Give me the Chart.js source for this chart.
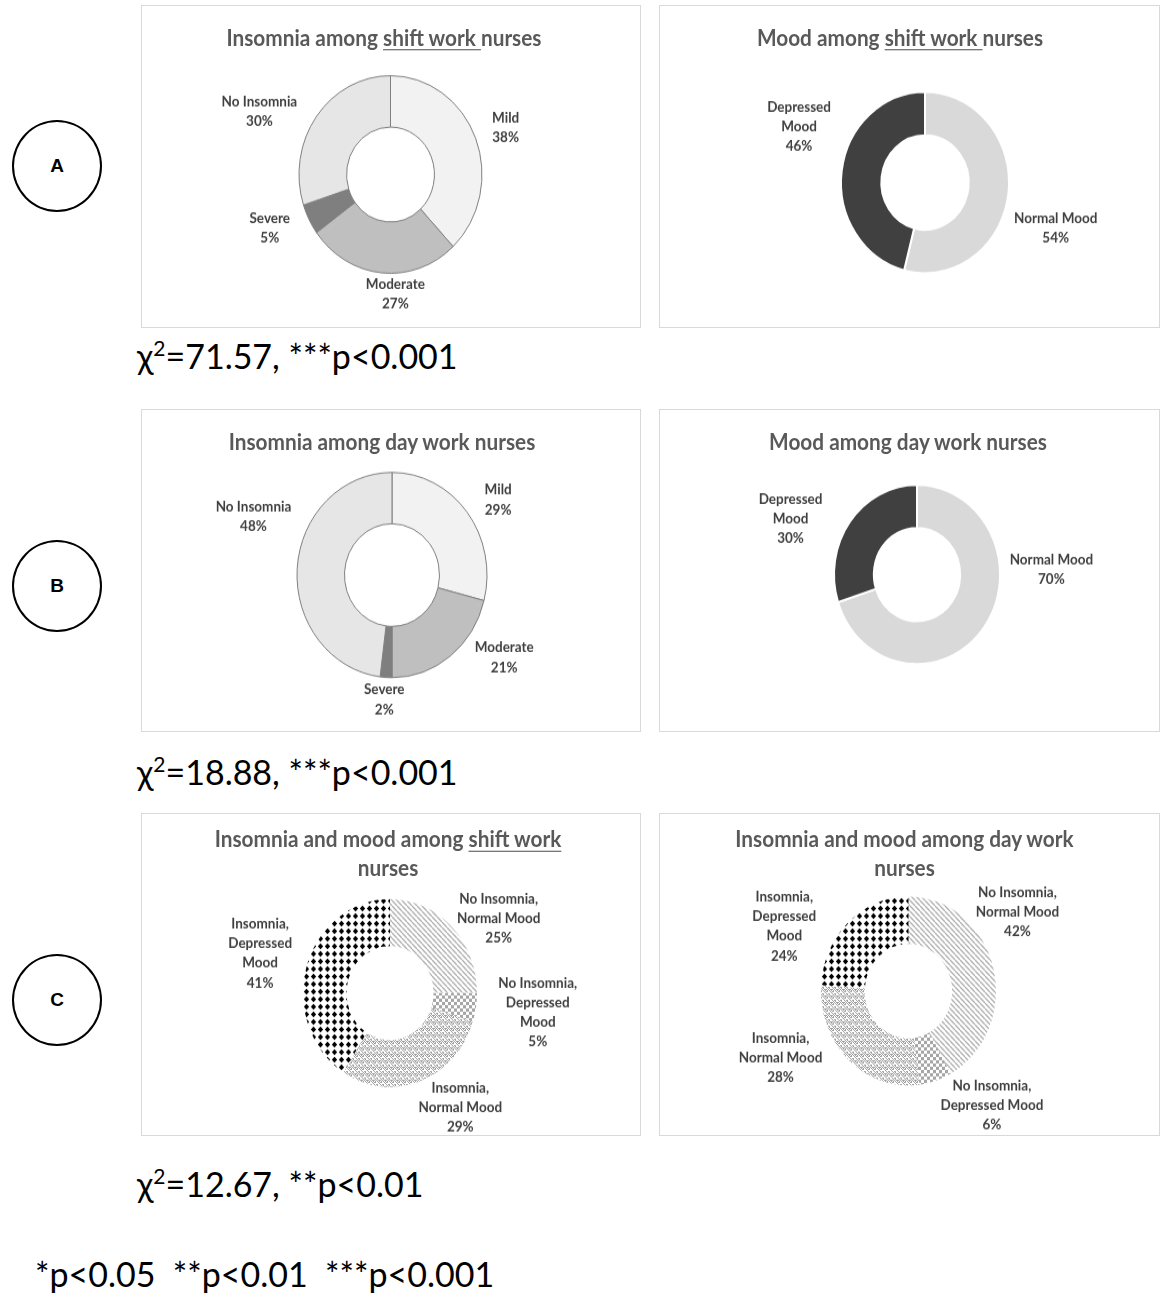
<!DOCTYPE html>
<html lang="en">
<head>
<meta charset="UTF-8">
<title>Insomnia and mood among shift and day work nurses</title>
<script src="https://cdn.jsdelivr.net/npm/chart.js@4.4.1/dist/chart.umd.min.js"></script>
<style>
    html, body { margin: 0; padding: 0; background: #fff; }
    body { width: 1170px; height: 1303px; position: relative; overflow: hidden; font-family: Lato, "Open Sans", sans-serif; }
    .box { position: absolute; border: 1px solid #d9d9d9; box-sizing: border-box; background: #fff; overflow: hidden; }
    .inner { position: absolute; left: 0; top: 0; transform-origin: 0 0; }
    .inner canvas { position: absolute; left: 0; top: 0; }
    .title { position: absolute; left: 0; text-align: center; color: #595959; font-weight: 700; font-size: 20.8px; line-height: 26px; white-space: nowrap; }
    .title u { text-decoration-thickness: 1px; text-underline-offset: 3px; }
    .tag { position: absolute; left: 12px; width: 90px; height: 92px; border: 2px solid #000; border-radius: 50%; box-sizing: border-box;
           font: bold 19px "Liberation Sans", Arial, sans-serif; display: flex; align-items: center; justify-content: center; }
    .stat { position: absolute; font-size: 34px; line-height: 34px; color: #000; white-space: pre; }
    .stat sup { font-size: 21px; vertical-align: 13px; line-height: 0; }
</style>
</head>
<body>
<div id="page"></div>
<script>
// ---- data ----
const insomniaCats = ['Mild', 'Moderate', 'Severe', 'No Insomnia'];
const shiftInsomnia = [38, 27, 5, 30];
const dayInsomnia = [29, 21, 2, 48];

const moodCats = ['Normal Mood', 'Depressed Mood'];
const shiftMood = [54, 46];
const dayMood = [70, 30];

const comboCats = ['No Insomnia, Normal Mood', 'No Insomnia, Depressed Mood', 'Insomnia, Normal Mood', 'Insomnia, Depressed Mood'];
const shiftCombo = [25, 5, 29, 41];
const dayCombo = [42, 6, 28, 24];

const chiValues = ['71.57', '18.88', '12.67'];
const pLabels = ['***p<0.001', '***p<0.001', '**p<0.01'];
const groupTags = ['A', 'B', 'C'];

// how the data labels are broken into lines in each chart
const insomniaLines = [['Mild'], ['Moderate'], ['Severe'], ['No Insomnia']];
const moodLines = [['Normal Mood'], ['Depressed', 'Mood']];
const shiftComboLines = [['No Insomnia,', 'Normal Mood'], ['No Insomnia,', 'Depressed', 'Mood'], ['Insomnia,', 'Normal Mood'], ['Insomnia,', 'Depressed', 'Mood']];
const dayComboLines = [['No Insomnia,', 'Normal Mood'], ['No Insomnia,', 'Depressed Mood'], ['Insomnia,', 'Normal Mood'], ['Insomnia,', 'Depressed', 'Mood']];

// ---- fills ----
function tile(w, h, draw) {
    const c = document.createElement('canvas');
    c.width = w; c.height = h;
    const g = c.getContext('2d');
    g.fillStyle = '#fff';
    g.fillRect(0, 0, w, h);
    draw(g);
    return g.createPattern(c, 'repeat');
}
const dotFill = tile(7, 7, g => {
    g.fillStyle = '#000';
    g.beginPath();
    g.moveTo(3.5, 0.8); g.lineTo(6.2, 3.5); g.lineTo(3.5, 6.2); g.lineTo(0.8, 3.5);
    g.closePath(); g.fill();
});
const hatchFill = tile(5, 5, g => {
    g.strokeStyle = '#b0b0b0';
    g.lineWidth = 1.3;
    for (const k of [-5, 0, 5]) {
        g.beginPath(); g.moveTo(k, 0); g.lineTo(k + 5, 5); g.stroke();
    }
});
const checkFill = tile(6, 6, g => {
    g.fillStyle = '#a6a6a6';
    g.fillRect(0, 0, 3, 3);
    g.fillRect(3, 3, 3, 3);
});
const weaveFill = tile(6, 6, g => {
    g.fillStyle = '#a0a0a0';
    for (let x = 0; x < 6; x++)
        for (let y = 0; y < 6; y++)
            if ((y + Math.abs(x - 3)) % 3 < 1.5 && (x + y) % 2 === 0 || (x * 2 + y) % 6 === 0) g.fillRect(x, y, 1, 1);
});

const insomniaColors = ['#f2f2f2', '#bfbfbf', '#7f7f7f', '#e7e6e6'];
const moodColors = ['#d9d9d9', '#404040'];
const comboFills = [hatchFill, checkFill, weaveFill, dotFill];

// ---- layout (page pixels; drawing is stretched vertically like the source) ----
const STRETCH = 1.08;
const panels = [
    { box: [141, 5, 500, 323], cx: 248.5, cy: 156, r: 91.5, cut: '48%', titleCx: 242, titleTop: 16,
      title: 'Insomnia among <u>shift work </u>nurses', cats: insomniaCats, values: shiftInsomnia, lines: insomniaLines,
      fills: insomniaColors, border: '#7f7f7f', bw: 1,
      nudge: [[10, 0], [17, -7], [-14, -4], [-20, 12]] },
    { box: [659, 5, 501, 323], cx: 265, cy: 163.4, r: 84, cut: '52%', titleCx: 240, titleTop: 16,
      title: 'Mood among <u>shift work </u>nurses', cats: moodCats, values: shiftMood, lines: moodLines,
      fills: moodColors, border: '#fff', bw: 2,
      nudge: [[-2, 31], [-3, -40]] },
    { box: [141, 409, 500, 323], cx: 250, cy: 152.8, r: 95, cut: '50%', titleCx: 240, titleTop: 16,
      title: 'Insomnia among day work nurses', cats: insomniaCats, values: dayInsomnia, lines: insomniaLines,
      fills: insomniaColors, border: '#7f7f7f', bw: 1,
      nudge: [[14, 5], [31, -21], [0, -6], [2, -50]] },
    { box: [659, 409, 501, 323], cx: 257, cy: 152.3, r: 83, cut: '52%', titleCx: 248, titleTop: 16,
      title: 'Mood among day work nurses', cats: moodCats, values: dayMood, lines: moodLines,
      fills: moodColors, border: '#fff', bw: 2,
      nudge: [[27, -74], [-27, 19]] },
    { box: [141, 813, 500, 323], cx: 248, cy: 165.7, r: 87, cut: '50%', titleCx: 246, titleTop: 9.5,
      title: 'Insomnia and mood among <u>shift work</u><br>nurses', cats: comboCats, values: shiftCombo, lines: shiftComboLines,
      fills: comboFills, border: '#fff', bw: 0,
      nudge: [[12, 19], [15, -3], [24, -10], [-8, 0]] },
    { box: [659, 813, 501, 323], cx: 248.5, cy: 163.9, r: 87.5, cut: '50%', titleCx: 244.5, titleTop: 9.5,
      title: 'Insomnia and mood among day work<br>nurses', cats: comboCats, values: dayCombo, lines: dayComboLines,
      fills: comboFills, border: '#fff', bw: 0,
      nudge: [[-24, -46], [38, -12], [-34, -30], [-37, 39]] }
];
const tagTops = [120, 540, 954];
const statRows = [{ left: 137, top: 339 }, { left: 137, top: 755 }, { left: 137, top: 1167 }];

// outside-end labels, pushed out along the slice's middle angle, then nudged (page px)
const sliceLabels = {
    id: 'sliceLabels',
    afterDatasetsDraw(chart, args, opts) {
        const ctx = chart.ctx;
        const meta = chart.getDatasetMeta(0);
        const values = chart.data.datasets[0].data;
        ctx.save();
        ctx.font = '700 13.5px Lato';
        ctx.fillStyle = '#404040';
        ctx.textAlign = 'center';
        ctx.textBaseline = 'middle';
        meta.data.forEach((arc, i) => {
            const p = arc.getProps(['x', 'y', 'startAngle', 'endAngle', 'outerRadius'], true);
            const mid = (p.startAngle + p.endAngle) / 2;
            const lines = opts.lines[i].concat([values[i] + '%']);
            const w = Math.max(...lines.map(l => ctx.measureText(l).width));
            const h = lines.length * opts.lineHeight;
            const nd = opts.nudge[i];
            const bx = p.x + Math.cos(mid) * (p.outerRadius + opts.pad + w / 2) + nd[0];
            const by = p.y + Math.sin(mid) * (p.outerRadius + opts.pad + h / 2) + nd[1] / STRETCH;
            lines.forEach((l, k) => ctx.fillText(l, bx, by - h / 2 + opts.lineHeight * (k + 0.5)));
        });
        ctx.restore();
    }
};

const page = document.getElementById('page');

panels.forEach(pn => {
    const [x, y, w, h] = pn.box;
    const box = document.createElement('div');
    box.className = 'box';
    Object.assign(box.style, { left: x + 'px', top: y + 'px', width: w + 'px', height: h + 'px' });
    const W = w - 2, H = Math.round((h - 2) / STRETCH);
    const inner = document.createElement('div');
    inner.className = 'inner';
    Object.assign(inner.style, { width: W + 'px', height: H + 'px', transform: 'scaleY(' + STRETCH + ')' });
    const canvas = document.createElement('canvas');
    canvas.width = W; canvas.height = H;
    inner.appendChild(canvas);
    const title = document.createElement('div');
    title.className = 'title';
    title.style.width = (pn.titleCx * 2) + 'px';
    title.style.top = pn.titleTop + 'px';
    title.innerHTML = pn.title;
    inner.appendChild(title);
    box.appendChild(inner);
    page.appendChild(box);

    new Chart(canvas, {
        type: 'doughnut',
        data: {
            labels: pn.cats,
            datasets: [{
                data: pn.values,
                backgroundColor: pn.fills,
                borderColor: pn.border,
                borderWidth: pn.bw,
                radius: pn.r,
                cutout: pn.cut
            }]
        },
        options: {
            responsive: false,
            animation: false,
            events: [],
            layout: { padding: {
                left: Math.max(0, 2 * pn.cx - W), right: Math.max(0, W - 2 * pn.cx),
                top: Math.max(0, 2 * pn.cy - H), bottom: Math.max(0, H - 2 * pn.cy)
            } },
            plugins: {
                legend: { display: false },
                tooltip: { enabled: false },
                sliceLabels: { lines: pn.lines, pad: 8, lineHeight: 18.2, nudge: pn.nudge }
            }
        },
        plugins: [sliceLabels]
    });
});

groupTags.forEach((t, i) => {
    const d = document.createElement('div');
    d.className = 'tag';
    d.style.top = tagTops[i] + 'px';
    d.textContent = t;
    page.appendChild(d);
});

chiValues.forEach((v, i) => {
    const d = document.createElement('div');
    d.className = 'stat';
    d.style.left = statRows[i].left + 'px';
    d.style.top = statRows[i].top + 'px';
    d.innerHTML = '\u03c7<sup>2</sup>=' + v + ', ' + pLabels[i];
    page.appendChild(d);
});

const foot = document.createElement('div');
foot.className = 'stat';
foot.style.left = '35px';
foot.style.top = '1257px';
foot.textContent = '*p<0.05  **p<0.01  ***p<0.001';
page.appendChild(foot);
</script>
</body>
</html>
